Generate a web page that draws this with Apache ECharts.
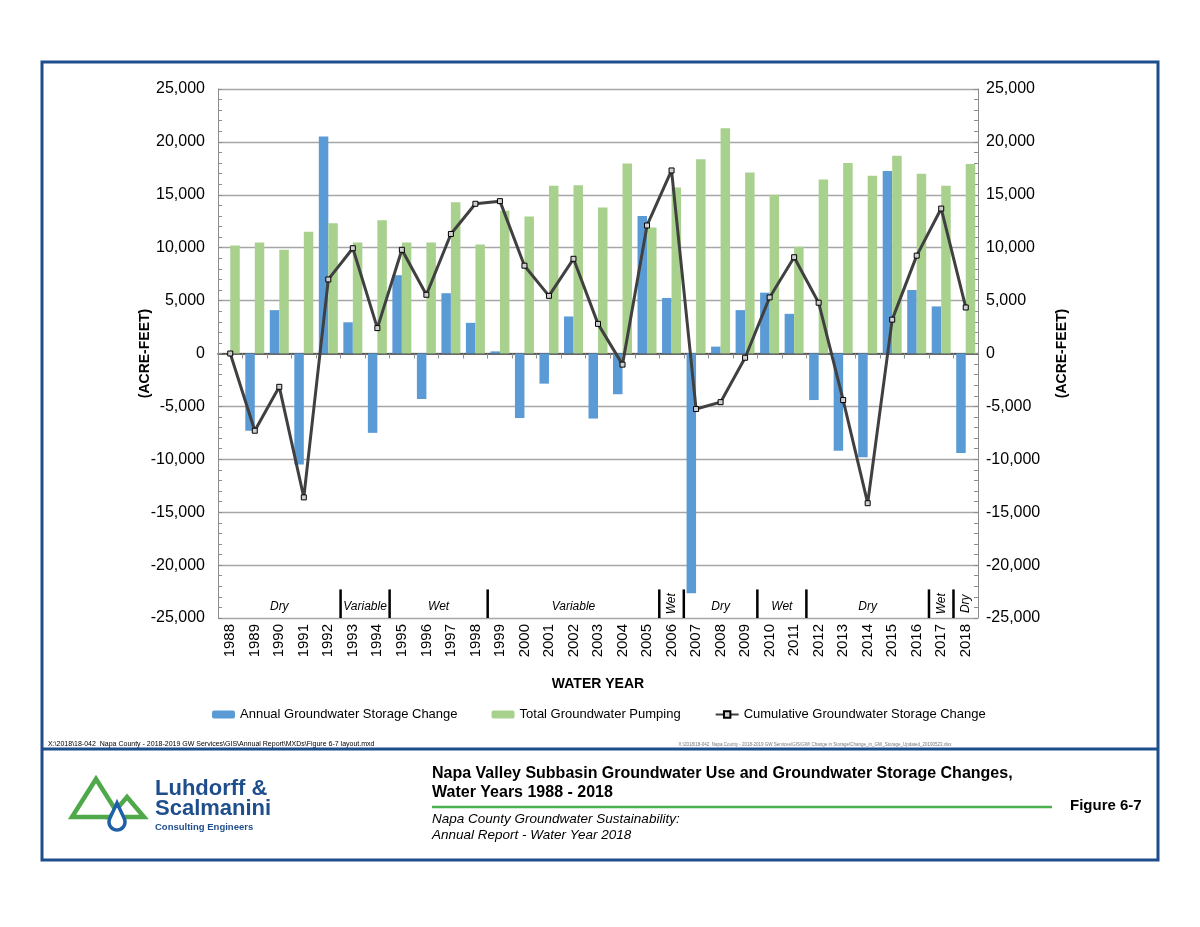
<!DOCTYPE html>
<html><head><meta charset="utf-8">
<script src="https://cdn.jsdelivr.net/npm/echarts@6/dist/echarts.min.js"></script>
<style>html,body{margin:0;padding:0;background:#fff}#c{width:1200px;height:927px}</style>
</head><body><div id="c"></div>
<script>
const years = ['1988','1989','1990','1991','1992','1993','1994','1995','1996','1997','1998','1999','2000','2001','2002','2003','2004','2005','2006','2007','2008','2009','2010','2011','2012','2013','2014','2015','2016','2017','2018'];
const annualChange = [0,-7300,4100,-10500,20500,2950,-7500,7400,-4300,5700,2900,200,-6100,-2850,3500,-6150,-3850,13000,5250,-22650,650,4100,5750,3750,-4400,-9200,-9800,17250,6000,4450,-9400];
const pumping = [10200,10500,9800,11500,12300,10500,12600,10500,10500,14300,10300,13500,12950,15850,15900,13800,17950,11900,15700,18350,21300,17100,15000,10100,16450,18000,16800,18700,17000,15850,17900];
const cumulative = [0,-7300,-3150,-13600,7000,9950,2400,9800,5550,11300,14150,14400,8300,5450,8950,2800,-1050,12100,17300,-5250,-4600,-400,5300,9100,4800,-4400,-14150,3200,9250,13700,4350];
const yTicks = {min:-25000, max:25000, interval:5000};
const periodStart = ['1988','1993','1995','1999','2006','2007','2010','2012','2017','2018'];
const periodEnd   = ['1992','1994','1998','2005','2006','2009','2011','2016','2017','2018'];
const periodLabel = ['Dry','Variable','Wet','Variable','Wet','Dry','Wet','Dry','Wet','Dry'];
const seriesNames = ['Annual Groundwater Storage Change','Total Groundwater Pumping','Cumulative Groundwater Storage Change'];

const FONT = "'Liberation Sans', Arial, sans-serif";
const chart = echarts.init(document.getElementById('c'), null, {renderer:'canvas'});

function yAx(pos, margin, gap){
  return {type:'value', position:pos, min:yTicks.min, max:yTicks.max, interval:yTicks.interval,
    axisLine:{show:true, lineStyle:{color:'#8c8c8c'}},
    axisTick:{show:true, inside:true, length:4, lineStyle:{color:'#8c8c8c'}},
    minorTick:{show:true, splitNumber:5, length:4, lineStyle:{color:'#8c8c8c'}},
    splitLine:{show: pos==='left', lineStyle:{color:'#a6a6a6', width:1.3}},
    axisLabel:{fontFamily:FONT, fontSize:16, color:'#000', margin:margin, formatter: v => v.toLocaleString('en-US')},
    name:'(ACRE-FEET)', nameLocation:'middle', nameRotate:90, nameGap:gap, nameMoveOverlap:false,
    nameTextStyle:{fontFamily:FONT, fontSize:14, fontWeight:'bold', color:'#000'}};
}

const periodData = periodStart.map((s,i)=>[years.indexOf(s), -23900, years.indexOf(periodEnd[i])]);

// water drop outline for the logo
const dropPts = (function(){
  const cx=117, cy=822, r=8, tipY=803;
  const pts=[[cx,tipY]];
  const a0 = -25*Math.PI/180, a1 = 205*Math.PI/180;
  for(let k=0;k<=24;k++){ const a=a0+(a1-a0)*k/24; pts.push([cx+r*Math.cos(a), cy+r*Math.sin(a)]); }
  return pts;
})();

const option = {
  animation:false,
  backgroundColor:'#fff',
  grid:{left:218, right:222, top:89, bottom:309, containLabel:false},
  legend:{data:seriesNames, left:207, top:703, itemWidth:23, itemHeight:8, itemGap:34,
    textStyle:{fontFamily:FONT, fontSize:13, color:'#000'}},
  xAxis:[
    {type:'category', data:years, position:'bottom',
     axisLine:{lineStyle:{color:'#8c8c8c'}},
     axisTick:{show:true, length:5, lineStyle:{color:'#8c8c8c'}},
     axisLabel:{rotate:90, interval:0, fontFamily:FONT, fontSize:15, color:'#000', margin:6},
     name:'WATER YEAR', nameLocation:'middle', nameGap:59, nameMoveOverlap:false,
     nameTextStyle:{fontFamily:FONT, fontSize:14, fontWeight:'bold', color:'#000'}},
    {type:'category', data:years, position:'top',
     axisLine:{lineStyle:{color:'#404040', width:1.5}}, axisTick:{show:false}, axisLabel:{show:false}}
  ],
  yAxis:[ yAx('left', 13, 66), yAx('right', 8, 77) ],
  series:[
    {name:seriesNames[0], type:'bar', data:annualChange, barWidth:9.5, barGap:'0%',
     itemStyle:{color:'#5b9bd5'}},
    {name:seriesNames[1], type:'bar', data:pumping, barWidth:9.5, barGap:'0%',
     itemStyle:{color:'#a9d18e'}},
    {name:seriesNames[2], type:'line', data:cumulative, z:5,
     lineStyle:{color:'#404040', width:3}, symbol:'rect', symbolSize:5,
     itemStyle:{color:'#d0d0d0', borderColor:'#000', borderWidth:1}},
    {type:'custom', data:periodData, encode:{x:0, y:1}, z:6, silent:true, clip:false,
     renderItem:function(params, api){
       const i = params.dataIndex;
       const s = api.value(0), e = api.value(2);
       const p1 = api.coord([s, -23900]), p2 = api.coord([e, -23900]);
       const cx = (p1[0]+p2[0])/2;
       const single = s===e;
       const children = [];
       children.push({type:'text', x:cx, y: single ? api.coord([s,-23650])[1] : p1[1],
         rotation: single ? Math.PI/2 : 0,
         style:{text:periodLabel[i], font:'italic 12px '+FONT, fill:'#000', align:'center', verticalAlign:'middle'}});
       if (i>0){
         const a = api.coord([s-1, 0])[0], b = api.coord([s, 0])[0];
         const x = (a+b)/2;
         const yb = api.coord([s, -25000])[1], yt = api.coord([s, -22300])[1];
         children.push({type:'line', shape:{x1:x, y1:yb, x2:x, y2:yt}, style:{stroke:'#000', lineWidth:2.5}});
       }
       return {type:'group', children:children};
     }}
  ],
  graphic:[
    {type:'rect', shape:{x:42, y:62, width:1116, height:798}, style:{fill:'none', stroke:'#1f4e8c', lineWidth:3}, silent:true},
    {type:'line', shape:{x1:42, y1:749, x2:1158, y2:749}, style:{stroke:'#1f4e8c', lineWidth:3}, silent:true},
    {type:'text', x:48, y:744, style:{text:'X:\\2018\\18-042  Napa County - 2018-2019 GW Services\\GIS\\Annual Report\\MXDs\\Figure 6-7 layout.mxd', font:'7px '+FONT, fill:'#000', align:'left', verticalAlign:'middle'}},
    {type:'text', x:815, y:745, style:{text:'X:\\2018\\18-042  Napa County - 2018-2019 GW Services\\GIS\\GW\\ Change in Storage\\Change_in_GW_Storage_Updated_20190523.xlsx', font:'4.5px '+FONT, fill:'#777', align:'center', verticalAlign:'middle'}},
    {type:'polygon', shape:{points:[[72,817],[96,779],[120,817]]}, style:{fill:'none', stroke:'#4fa84a', lineWidth:4.5, lineJoin:'miter'}},
    {type:'polygon', shape:{points:[[110,817],[127,797],[144,817]]}, style:{fill:'none', stroke:'#4fa84a', lineWidth:4.5, lineJoin:'miter'}},
    {type:'polygon', shape:{points:dropPts}, style:{fill:'#fff', stroke:'#1f5fa8', lineWidth:3.5}},
    {type:'text', x:155, y:789, style:{text:'Luhdorff &', font:'bold 22px '+FONT, fill:'#1f4e8c', align:'left', verticalAlign:'middle'}},
    {type:'text', x:155, y:809, style:{text:'Scalmanini', font:'bold 22px '+FONT, fill:'#1f4e8c', align:'left', verticalAlign:'middle'}},
    {type:'text', x:155, y:827, style:{text:'Consulting Engineers', font:'bold 9.5px '+FONT, fill:'#1f4e8c', align:'left', verticalAlign:'middle'}},
    {type:'text', x:432, y:774, style:{text:'Napa Valley Subbasin Groundwater Use and Groundwater Storage Changes,', font:'bold 16px '+FONT, fill:'#000', align:'left', verticalAlign:'middle'}},
    {type:'text', x:432, y:793, style:{text:'Water Years 1988 - 2018', font:'bold 16px '+FONT, fill:'#000', align:'left', verticalAlign:'middle'}},
    {type:'line', shape:{x1:432, y1:807, x2:1052, y2:807}, style:{stroke:'#4caf50', lineWidth:2.5}},
    {type:'text', x:432, y:819, style:{text:'Napa County Groundwater Sustainability:', font:'italic 13.5px '+FONT, fill:'#000', align:'left', verticalAlign:'middle'}},
    {type:'text', x:432, y:835, style:{text:'Annual Report - Water Year 2018', font:'italic 13.5px '+FONT, fill:'#000', align:'left', verticalAlign:'middle'}},
    {type:'text', x:1070, y:806, style:{text:'Figure 6-7', font:'bold 15px '+FONT, fill:'#000', align:'left', verticalAlign:'middle'}}
  ]
};
chart.setOption(option);
</script>
</body></html>
